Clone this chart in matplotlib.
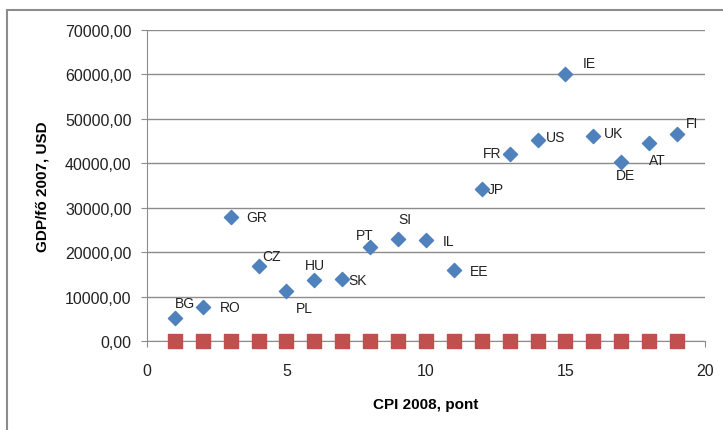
import matplotlib.pyplot as plt
from matplotlib.patches import Rectangle
from matplotlib.ticker import FuncFormatter

plt.rcParams['font.family'] = ['Liberation Sans', 'DejaVu Sans']

# Data
countries = ["BG", "RO", "GR", "CZ", "PL", "HU", "SK", "PT", "SI", "IL",
             "EE", "JP", "FR", "US", "IE", "UK", "DE", "AT", "FI"]
cpi = list(range(1, 20))
gdp = [5200, 7650, 28000, 16900, 11200, 13700, 13900, 21100, 22950, 22700,
       15900, 34200, 42000, 45200, 60100, 46100, 40300, 44600, 46600]
zero_series = [0] * 19

# label centre offsets in pixels (dx right, dy down)
offsets = {"BG": (10, -15), "RO": (27, 0), "GR": (26, 0), "CZ": (13, -10),
           "PL": (18, 17), "HU": (1, -15), "SK": (15, 1), "PT": (-5, -12),
           "SI": (7, -20), "IL": (23, 1), "EE": (25, 1), "JP": (14, 0),
           "FR": (-18, -1), "US": (18, -3), "IE": (24, -11), "UK": (20, -3),
           "DE": (4, 13), "AT": (8, 17), "FI": (15, -11)}

fig = plt.figure(figsize=(7.23, 4.31), dpi=100)
ax = fig.add_axes([0.2033, 0.2065, 0.7717, 0.7215])

ax.scatter(cpi, gdp, marker="D", s=52, color="#4F81BD", zorder=3)
ax.scatter(cpi, zero_series, marker="s", s=95, color="#C0504D", zorder=3,
           clip_on=False)

for name, x, y in zip(countries, cpi, gdp):
    dx, dy = offsets[name]
    ax.annotate(name, (x, y), xytext=(dx * 0.72, -dy * 0.72),
                textcoords="offset points", ha="center", va="center",
                fontsize=10, color="#222222")

ax.set_xlim(0, 20)
ax.set_ylim(0, 70000)
ax.set_xticks([0, 5, 10, 15, 20])
ax.set_yticks(range(0, 70001, 10000))
ax.yaxis.set_major_formatter(FuncFormatter(lambda v, p: f"{v:.2f}".replace(".", ",")))
ax.grid(axis="y", color="#8c8c8c", linewidth=1)
ax.set_axisbelow(True)

for s in ["top", "right"]:
    ax.spines[s].set_visible(False)
for s in ["left", "bottom"]:
    ax.spines[s].set_color("#8c8c8c")
ax.tick_params(colors="#8c8c8c", labelcolor="#222222", labelsize=11.5, length=4)
ax.tick_params(axis="x", pad=12)
ax.tick_params(axis="y", pad=7)

ax.set_xlabel("CPI 2008, pont", fontsize=11, fontweight="bold")
ax.set_ylabel("GDP/fő 2007, USD", fontsize=11, fontweight="bold")
ax.xaxis.set_label_coords(0.5, -0.18)
ax.yaxis.set_label_coords(-0.174, 0.5)

# chart area border
fig.patches.append(Rectangle((7 / 723, -0.2), 1.2, 1.2 - 11 / 431,
                             transform=fig.transFigure, fill=False,
                             edgecolor="#8c8c8c", linewidth=1.5))

fig.savefig("out.png", dpi=100)
